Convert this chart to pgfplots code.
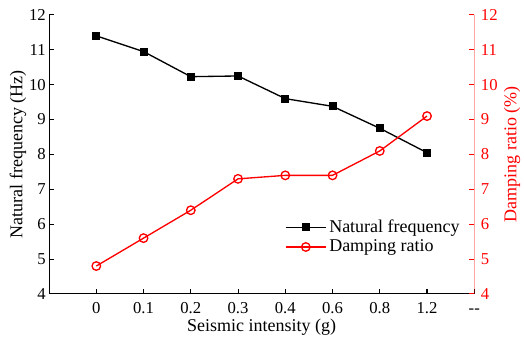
\documentclass[border=0pt]{standalone}
\usepackage{fontspec}
\setmainfont{Liberation Serif}
\usepackage{pgfplots}
\pgfplotsset{compat=1.18}
\newcommand{\lgf}{\fontsize{13.5}{15}\selectfont}
\begin{document}
\begin{tikzpicture}
\begin{axis}[
  at={(0,0)}, anchor=south west,
  scale only axis, width=319pt, height=209.3pt,
  xmin=-1, xmax=8, ymin=4, ymax=12,
  axis line style={draw=none},
  xtick pos=bottom, ytick pos=left,
  xtick={0,1,2,3,4,5,6,7,8},
  xticklabels={0,0.1,0.2,0.3,0.4,0.6,0.8,1.2,\vphantom{0}-{}-},
  ytick={4,5,...,12},
  tick align=inside,
  major tick length=4pt,
  tick style={black, line width=0.8pt},
  /pgf/number format/assume math mode=true,
  ticklabel style={font=\fontsize{12.5}{14}\selectfont},
  xticklabel style={yshift=-3pt},
  yticklabel style={xshift=1pt},
  label style={font=\fontsize{13.5}{15}\selectfont},
  xlabel={Seismic intensity (g)},
  ylabel={Natural frequency (Hz)},
  xlabel style={at={(axis description cs:0.5,-0.12)}, anchor=center},
  ylabel style={at={(axis description cs:-0.073,0.5)}, anchor=center},
  legend style={draw=none, fill=none, at={(0.545,0.285)}, anchor=north west, row sep=0pt},
  legend cell align=left,
  legend image code/.code={\draw[mark repeat=2,mark phase=2] plot coordinates {(0cm,0cm)(0.53cm,0cm)(1.06cm,0cm)};},
]
\draw[black, line width=0.8pt] (rel axis cs:0,1) -- (rel axis cs:0,0) -- (rel axis cs:1,0);
\addplot[black, line width=1pt, mark=square*, mark size=2.5pt, mark options={solid, fill=black}] coordinates {
(0,11.4) (1,10.95) (2,10.23) (3,10.25) (4,9.6) (5,9.38) (6,8.75) (7,8.05)};
\addlegendentry{\lgf Natural frequency}
\addplot[red, line width=1pt, mark=o, mark size=3.2pt, mark options={solid, fill=white}] coordinates {
(0,4.8) (1,5.6) (2,6.4) (3,7.3) (4,7.4) (5,7.4) (6,8.1) (7,9.1)};
\addlegendentry{\lgf Damping ratio}
\end{axis}
\begin{axis}[
  at={(0,0)}, anchor=south west,
  scale only axis, width=319pt, height=209.3pt,
  xmin=-1, xmax=8, ymin=4, ymax=12,
  hide x axis,
  axis line style={draw=none},
  ytick pos=right, yticklabel pos=right,
  ytick={4,5,...,12},
  tick align=inside,
  major tick length=4pt,
  ytick style={red, line width=0.8pt},
  yticklabel style={red, font=\fontsize{12.5}{14}\selectfont, xshift=1.5pt},
  /pgf/number format/assume math mode=true,
  ylabel={Damping ratio (\%)},
  ylabel style={red, font=\fontsize{13.5}{15}\selectfont, at={(axis description cs:1.089,0.5)}, anchor=center},
]
\draw[red, line width=0.8pt] (rel axis cs:1,0) -- (rel axis cs:1,1);
\addplot[draw=none] coordinates {(0,4)};
\end{axis}
\pgfresetboundingbox
\path[use as bounding box] (-36.8pt,-37.5pt) rectangle (356.3pt,220.5pt);
\end{tikzpicture}
\end{document}
